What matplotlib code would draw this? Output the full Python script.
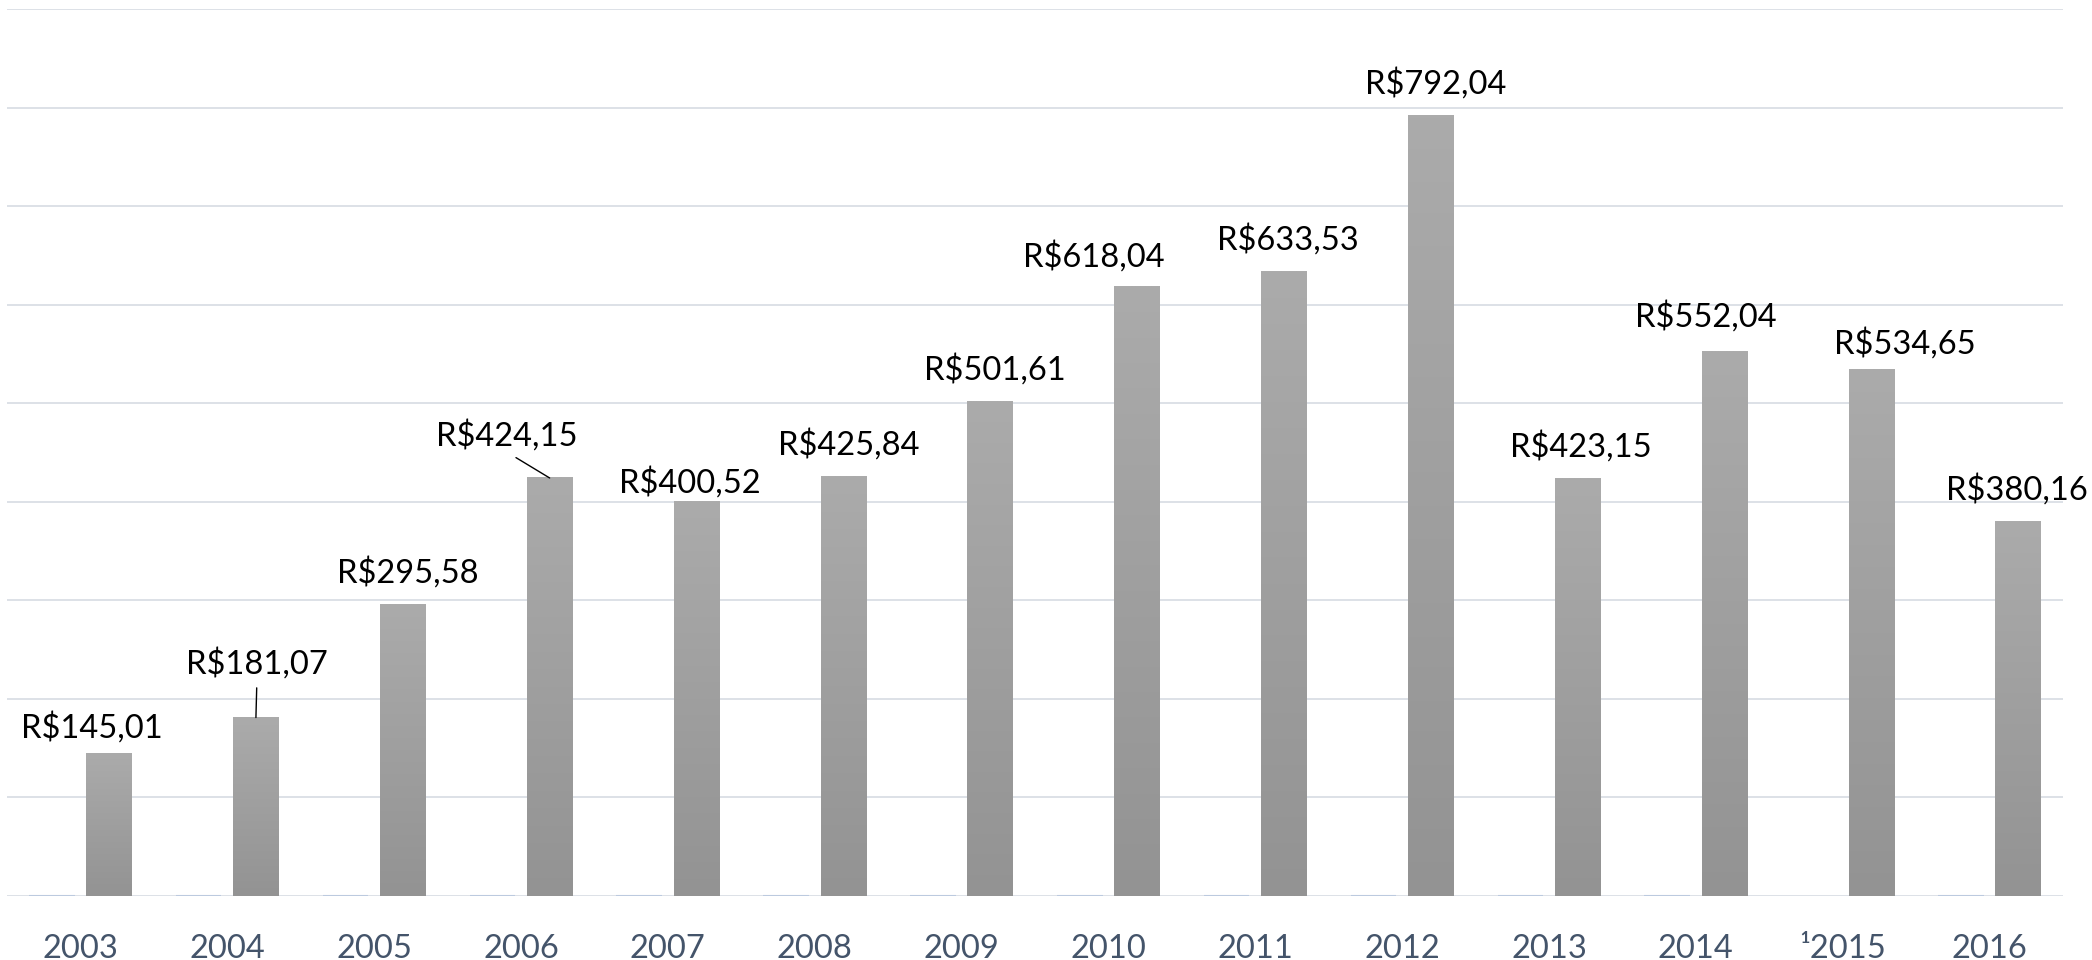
import matplotlib
matplotlib.use('Agg')
import matplotlib.pyplot as plt
import numpy as np
from matplotlib.colors import LinearSegmentedColormap

plt.rcParams['font.family'] = ['Lato', 'DejaVu Sans']

years = ['2003', '2004', '2005', '2006', '2007', '2008', '2009',
         '2010', '2011', '2012', '2013', '2014', '\u00b92015', '2016']
# first (empty) series: only a thin baseline stroke shows in the original
base_series = [0, 0, 0, 0, 0, 0, 0, 0, 0, 0, 0, 0, np.nan, 0]
values = [145.01, 181.07, 295.58, 424.15, 400.52, 425.84, 501.61,
          618.04, 633.53, 792.04, 423.15, 552.04, 534.65, 380.16]

# label offsets from the bar top (pixels): dx, dy
label_dx = [-17, 1, 5, -43, -7, 5, 5, -43, 4, 5, 3, -19, 33, -1]
label_dy = [26, 54, 32, 42, 19, 32, 32, 30, 32, 32, 32, 35, 26, 32]
leader = [False, True, False, True] + [False] * 10


def fmt_brl(v):
    return 'R$' + '{:.2f}'.format(v).replace('.', ',')


fig = plt.figure(figsize=(20.92, 9.6), dpi=100)
ax = fig.add_axes([7 / 2092, 64 / 960, 2056 / 2092, 887 / 960])

x = np.arange(len(years))
w = 0.31
off = 0.195

ax.bar(x - off, base_series, w, color='none', edgecolor='#bccadf', linewidth=1.5, zorder=2)
bars = ax.bar(x + off, values, w, color='#a0a0a0', zorder=2)

cmap = LinearSegmentedColormap.from_list('g', ['#939393', '#ababab'])
grad = np.linspace(0, 1, 256).reshape(-1, 1)
for r in bars:
    x0 = r.get_x()
    h = r.get_height()
    ax.imshow(grad, extent=[x0, x0 + r.get_width(), 0, h], origin='lower',
              aspect='auto', cmap=cmap, zorder=3)

for i, r in enumerate(bars):
    cx = r.get_x() + r.get_width() / 2
    h = r.get_height()
    if leader[i]:
        ax.annotate(fmt_brl(values[i]), xy=(cx, h), xytext=(label_dx[i], label_dy[i]),
                    textcoords='offset pixels', ha='center', va='center',
                    fontsize=23.5, color='black', zorder=5,
                    arrowprops=dict(arrowstyle='-', color='black', lw=1.0,
                                    relpos=(0.5, 0.0), shrinkA=4, shrinkB=0))
    else:
        ax.annotate(fmt_brl(values[i]), xy=(cx, h), xytext=(label_dx[i], label_dy[i]),
                    textcoords='offset pixels', ha='center', va='center',
                    fontsize=23.5, color='black', zorder=5)

ax.set_xlim(-0.5, len(years) - 0.5)
ax.set_ylim(0, 900)
ax.set_yticks(np.arange(0, 901, 100))
ax.set_yticklabels([])
ax.tick_params(axis='y', length=0)
ax.grid(axis='y', color='#dde1e7', linewidth=1.4, zorder=0)
ax.set_axisbelow(True)

ax.set_xticks(x)
ax.set_xticklabels(years, fontsize=23.5, color='#44546a')
ax.tick_params(axis='x', length=0, pad=27)

for s in ax.spines.values():
    s.set_visible(False)

fig.savefig('out.png', dpi=100, facecolor='white')
